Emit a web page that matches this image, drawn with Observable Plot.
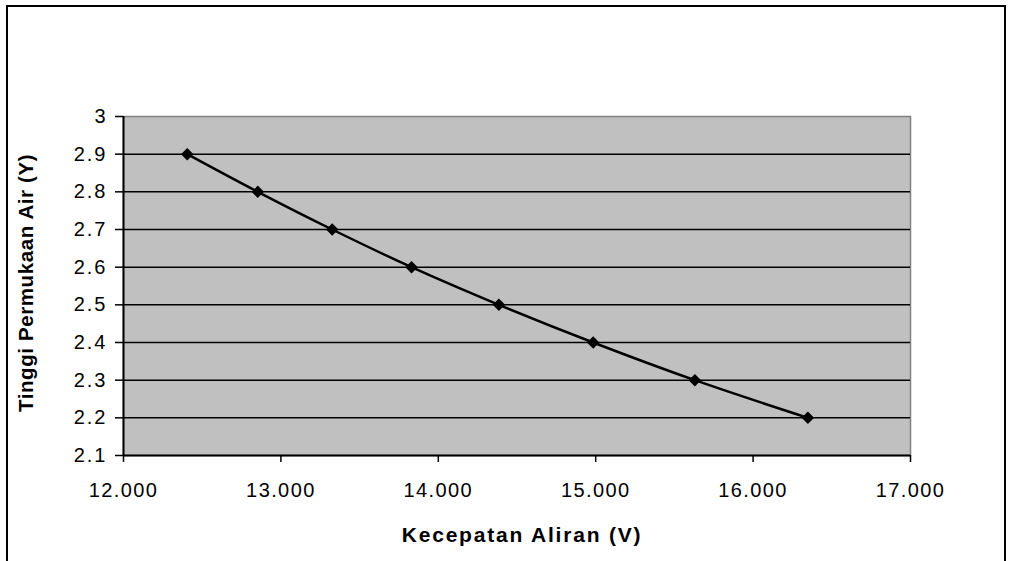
<!DOCTYPE html>
<html>
<head>
<meta charset="utf-8">
<script src="https://cdn.jsdelivr.net/npm/d3@7"></script>
<script src="https://cdn.jsdelivr.net/npm/@observablehq/plot@0.6"></script>
<style>
  html, body { margin: 0; padding: 0; background: #fff; overflow: hidden; }
  #wrap { position: relative; width: 1011px; height: 561px; overflow: hidden; }
  #border { position: absolute; left: 6px; top: 5px; width: 1000px; height: 620px; border: 2px solid #000; box-sizing: border-box; pointer-events: none; z-index: 2; }
  #chart { position: absolute; left: 0; top: 0; z-index: 1; }
  #chart g[aria-label="x-axis tick label"] text { letter-spacing: 1.4px; }
  #chart g[aria-label="y-axis tick label"] text { letter-spacing: 2px; }
  #chart .xtitle text { letter-spacing: 1.8px; }
  #chart .ytitle text { letter-spacing: 0.6px; }
</style>
</head>
<body>
<div id="wrap"><div id="border"></div><div id="chart"></div></div>
<script>
// Data
const kecepatan = [12.405, 12.853, 13.326, 13.83, 14.385, 14.984, 15.63, 16.348];
const tinggi    = [2.9, 2.8, 2.7, 2.6, 2.5, 2.4, 2.3, 2.2];
const xTicks = [12, 13, 14, 15, 16, 17];
const yTicks = [2.1, 2.2, 2.3, 2.4, 2.5, 2.6, 2.7, 2.8, 2.9, 3];
const gridY  = [2.2, 2.3, 2.4, 2.5, 2.6, 2.7, 2.8, 2.9];
const xTitle = "Kecepatan Aliran (V)";
const yTitle = "Tinggi Permukaan Air (Y)";

const data = kecepatan.map((v, i) => ({v, y: tinggi[i]}));

const chart = Plot.plot({
  width: 1011,
  height: 561,
  marginLeft: 123,
  marginRight: 101,
  marginTop: 116,
  marginBottom: 106,
  style: {fontFamily: "'Liberation Sans', Arial, sans-serif", fontSize: "20px", background: "transparent", color: "#000"},
  x: {domain: [12, 17], ticks: xTicks, tickFormat: d3.format(".3f")},
  y: {domain: [2.1, 3], ticks: yTicks, tickFormat: d => String(+d.toFixed(1))},
  marks: [
    Plot.frame({fill: "#c0c0c0", stroke: "#808080", strokeWidth: 1.5}),
    Plot.ruleY(gridY, {stroke: "#000", strokeWidth: 1.5}),
    Plot.ruleX([12], {stroke: "#000", strokeWidth: 2}),
    Plot.ruleY([2.1], {stroke: "#000", strokeWidth: 2}),
    Plot.axisX({ticks: xTicks, tickSize: 7, tickPadding: 20, stroke: "#000", strokeWidth: 1.5, label: null, fontSize: 20, fill: "#000", tickFormat: d3.format(".3f")}),
    Plot.axisY({ticks: yTicks, tickSize: 8, tickPadding: 8, stroke: "#000", strokeWidth: 1.5, label: null, fontSize: 20, fill: "#000", tickFormat: d => String(+d.toFixed(1))}),
    Plot.line(data, {x: "v", y: "y", curve: "catmull-rom", stroke: "#000", strokeWidth: 2.5}),
    Plot.dot(data, {x: "v", y: "y", symbol: "diamond2", r: 5.6, fill: "#000", stroke: "none"}),
    Plot.text([xTitle], {frameAnchor: "bottom", textAnchor: "middle", dy: 86, dx: 5, fontWeight: "bold", fontSize: 21, fill: "#000", className: "xtitle"}),
    Plot.text([yTitle], {frameAnchor: "left", textAnchor: "middle", dx: -97, dy: -3, rotate: -90, fontWeight: "bold", fontSize: 20.5, fill: "#000", className: "ytitle"})
  ]
});
document.getElementById("chart").appendChild(chart);
</script>
</body>
</html>
